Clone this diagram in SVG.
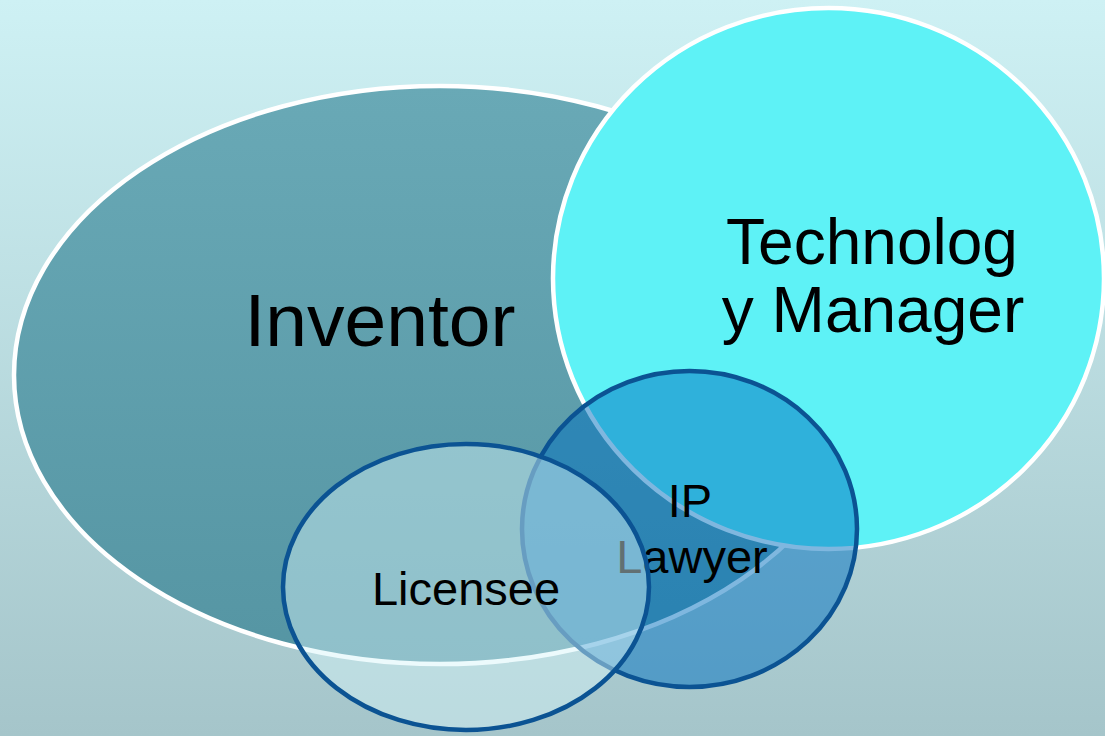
<svg xmlns="http://www.w3.org/2000/svg" width="1105" height="736" viewBox="0 0 1105 736">
  <defs>
    <linearGradient id="bg" x1="0" y1="0" x2="0" y2="1">
      <stop offset="0" stop-color="#ceF1F4"/>
      <stop offset="1" stop-color="#a5c5ca"/>
    </linearGradient>
    <linearGradient id="inv" x1="0" y1="0" x2="0" y2="1">
      <stop offset="0" stop-color="#69a9b6"/>
      <stop offset="1" stop-color="#5595a3"/>
    </linearGradient>
    <style>
      .lbl { font-family: "Liberation Sans", Arial, sans-serif; fill: #000; text-anchor: middle; }
      .white { stroke: #ffffff; stroke-width: 4.5; }
      .blue { stroke: #0b5393; stroke-width: 4.5; }
    </style>
  </defs>
  <rect x="0" y="0" width="1105" height="736" fill="url(#bg)"/>
  <g id="inventor">
    <ellipse cx="440" cy="375" rx="426" ry="289" fill="url(#inv)" class="white"/>
    <text class="lbl" x="380" y="346" font-size="75">Inventor</text>
  </g>
  <g id="technology-manager">
    <ellipse cx="828.5" cy="278.5" rx="275.5" ry="270.5" fill="#5ef2f6" class="white"/>
    <text class="lbl" x="872" y="264" font-size="64">Technolog</text>
    <text class="lbl" x="873" y="332" font-size="64">y Manager</text>
  </g>
  <g id="ip-lawyer">
    <ellipse cx="689.5" cy="529" rx="167.5" ry="158" fill="#0070c0" fill-opacity="0.5" class="blue"/>
    <text class="lbl" x="690" y="517" font-size="47">IP</text>
    <text class="lbl" x="692" y="573" font-size="47">Lawyer</text>
  </g>
  <g id="licensee">
    <ellipse cx="466" cy="587" rx="183" ry="143" fill="#d6f4f8" fill-opacity="0.46" class="blue"/>
    <text class="lbl" x="466" y="605" font-size="47">Licensee</text>
  </g>
</svg>
